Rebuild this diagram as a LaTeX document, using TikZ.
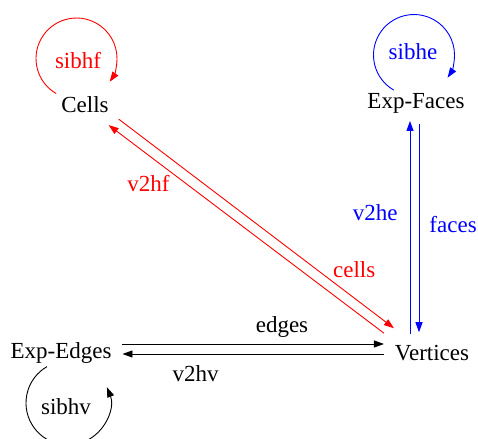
\documentclass[tikz,border=0pt]{standalone}
\usepackage{fontspec}
\setmainfont{Liberation Serif}
\usetikzlibrary{%
  arrows.meta,%
  positioning%
}

\begin{document}
\begin{tikzpicture}[x=1pt, y=1pt, line width=0.9pt,
	>={Triangle[length=10pt,width=7pt]},
	every node/.style={font=\fontsize{23}{27}\selectfont},
	ent/.style={inner sep=11pt, outer sep=0pt},
	lbl/.style={inner sep=2pt}]
\useasboundingbox (0,0) rectangle (478,438);

\node[ent] (Cells) at (85,333) {Cells};
\node[ent] (EF) at (416,335) {Exp-Faces};
\node[ent] (EE) at (61,85) {Exp-Edges};
\node[ent] (V) at (432,85) {Vertices};

\draw
	([yshift=9]EE.east) edge[->] node[lbl, pos=.61, above=4pt] (edges) {edges} ([yshift=9]V.west)
	([yshift=-1]V.west) edge[->] node[lbl, pos=.72, below=9pt] (v2hv) {v2hv} ([yshift=-1]EE.east)
	([shift={(-1,5)}]Cells.south east) edge[->, red] node[lbl, red, auto, pos=.77] (cells) {cells} ([shift={(10,6)}]V.north west)
	([shift={(0,1)}]V.north west) edge[->, red] node[lbl, red, auto, pos=.77] (v2hf) {v2hf} ([shift={(-11,-1)}]Cells.south east)
	([xshift=-22]V.north) edge[->, blue, shorten >=-3pt] node[lbl, blue, pos=.58, left=10pt] (v2he) {v2he} ([xshift=-6]EF.south)
	([xshift=3]EF.south) edge[->, blue, shorten >=2pt] node[lbl, blue, pos=.48, right=8pt] (faces) {faces} ([xshift=-13]V.north)
;

\draw[->, red] ([shift={(-28.75,11.4)}]Cells.center) arc[start angle=240, end angle=-35, radius=40.5];
\draw[->, blue] ([shift={(-22.25,12.9)}]EF.center) arc[start angle=240, end angle=-34, radius=40.5];
\draw[->] ([shift={(-14,-13.6)}]EE.center) arc[start angle=120, end angle=382, radius=42];

\node[red] (sibhf) at (78,377) {sibhf};
\node[blue] (sibhe) at (413,386) {sibhe};
\node (sibhv) at (66,31) {sibhv};
\end{tikzpicture}
\end{document}
